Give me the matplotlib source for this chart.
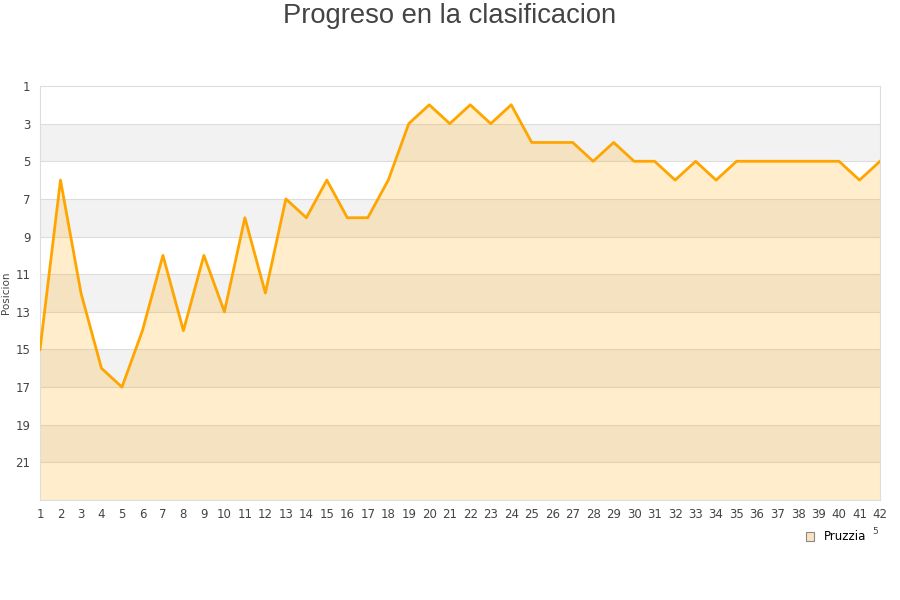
import numpy as np
import matplotlib

matplotlib.use("Agg")
import matplotlib.pyplot as plt
from matplotlib.patches import Patch

jornadas = list(range(1, 43))
posicion = [15, 6, 12, 16, 17, 14, 10, 14, 10, 13,
            8, 12, 7, 8, 6, 8, 8, 6, 3, 2,
            3, 2, 3, 2, 4, 4, 4, 5, 4, 5,
            5, 6, 5, 6, 5, 5, 5, 5, 5, 5,
            6, 5]
equipo = "Pruzzia"
y_ticks = list(range(1, 22, 2))

fig = plt.figure(figsize=(9, 6), dpi=100)
ax = fig.add_axes([40 / 900, 1 - 500 / 600, 840 / 900, 414 / 600])

# bandas alternas
for lo in range(3, 23, 4):
    ax.axhspan(lo, lo + 2, color="#f2f2f2", lw=0, zorder=0)
for yv in range(3, 23, 2):
    ax.axhline(yv, color="#dddddd", lw=0.8, zorder=1)

ax.fill_between(jornadas, posicion, 23, color="#ffa500", alpha=0.2, lw=0, zorder=2)
ax.plot(jornadas, posicion, color="#ffa500", lw=2, zorder=3)

ax.set_xlim(1, 42)
ax.set_ylim(23, 1)
ax.set_xticks(jornadas)
ax.set_yticks(y_ticks)
ax.tick_params(length=0, labelsize=8.5, colors="#444444", pad=6)
ax.tick_params(axis="y", pad=7)
for s in ax.spines.values():
    s.set_color("#dddddd")
    s.set_linewidth(0.8)
ax.set_ylabel("Posicion", fontsize=7.5, color="#444444")
ax.yaxis.set_label_coords(-29 / 840, 0.5)

fig.text(0.5, 1 - 16 / 600, "Progreso en la clasificacion", ha="center", va="center",
         fontsize=19.7, color="#444444", family="Liberation Sans")

handle = Patch(facecolor="#fbe3c0", edgecolor="#888888", lw=0.8)
fig.legend([handle], [equipo], loc="center", bbox_to_anchor=(836 / 900, 1 - 537 / 600),
           frameon=False, fontsize=8.5, handlelength=0.7, handleheight=0.7,
           handletextpad=0.8)
fig.text(875 / 900, 1 - 531 / 600, "5", fontsize=6.5, color="#444444", ha="center", va="center")

fig.savefig("out.png", dpi=100)
